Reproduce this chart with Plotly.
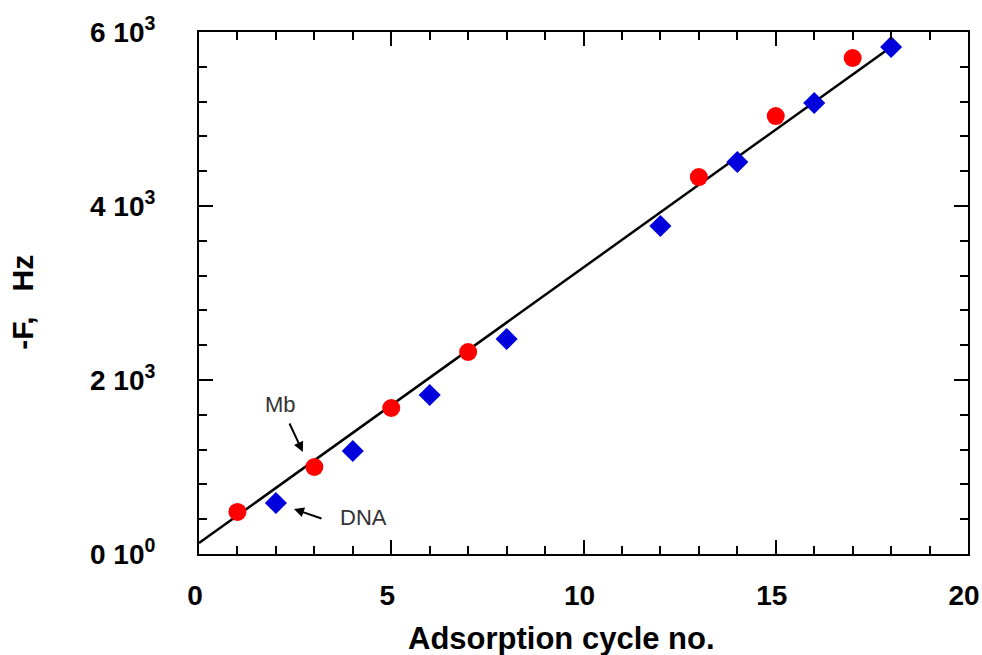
import plotly.graph_objects as go

# Data
mb_cycle = [1, 3, 5, 7, 13, 15, 17]
mb_freq = [483, 1000, 1678, 2322, 4333, 5034, 5701]
dna_cycle = [2, 4, 6, 8, 12, 14, 16, 18]
dna_freq = [586, 1184, 1828, 2471, 3770, 4506, 5184, 5828]
fit_x = [0, 18]
fit_y = [126, 5828]

ytick_vals = [0, 2000, 4000, 6000]
ytick_text = ["0 10<sup>0</sup>", "2 10<sup>3</sup>", "4 10<sup>3</sup>", "6 10<sup>3</sup>"]
xtick_vals = [0, 5, 10, 15, 20]

FONT = "Liberation Sans, Arial, sans-serif"

fig = go.Figure()
fig.add_trace(go.Scatter(x=fit_x, y=fit_y, mode="lines",
                         line=dict(color="black", width=2.5), showlegend=False,
                         hoverinfo="skip"))
fig.add_trace(go.Scatter(x=mb_cycle, y=mb_freq, mode="markers", name="Mb",
                         marker=dict(symbol="circle", size=18, color="#ff0000",
                                     line=dict(width=0)), showlegend=False))
fig.add_trace(go.Scatter(x=dna_cycle, y=dna_freq, mode="markers", name="DNA",
                         marker=dict(symbol="diamond", size=17, color="#0000dd",
                                     line=dict(width=0)), showlegend=False))

axis_common = dict(
    showline=True, linecolor="black", linewidth=2, mirror="allticks",
    ticks="inside", ticklen=14, tickwidth=2, tickcolor="black",
    showgrid=False, zeroline=False, automargin=False, ticklabeloverflow="allow",
    tickfont=dict(family=FONT, size=28, color="black", weight="bold"),
)

fig.update_xaxes(
    range=[0, 20], tickvals=xtick_vals, ticklabelstandoff=15, ticklabelshift=-4,
    minor=dict(ticks="inside", dtick=1, ticklen=8, tickwidth=1.5, tickcolor="black", showgrid=False),
    **axis_common,
)
fig.update_yaxes(
    range=[0, 6000], tickvals=ytick_vals, ticktext=ytick_text, ticklabelstandoff=36,
    minor=dict(ticks="inside", dtick=400, ticklen=8, tickwidth=1.5, tickcolor="black", showgrid=False),
    **axis_common,
)

annots = [
    dict(x=2.70, y=1172, ax=-14, ay=-30, text="", showarrow=True,
         arrowhead=2, arrowsize=1, arrowwidth=2, arrowcolor="black",
         xref="x", yref="y"),
    dict(x=2.47, y=517, ax=29, ay=10, text="", showarrow=True,
         arrowhead=2, arrowsize=1, arrowwidth=2, arrowcolor="black",
         xref="x", yref="y"),
    dict(x=2.11, y=1713, text="Mb", showarrow=False, xref="x", yref="y",
         font=dict(family=FONT, size=22, color="#333333")),
    dict(x=4.27, y=414, text="DNA", showarrow=False, xref="x", yref="y",
         font=dict(family=FONT, size=22, color="#333333")),
    dict(x=0.472, y=-0.162, xref="paper", yref="paper", yanchor="middle",
         text="Adsorption cycle no.", showarrow=False,
         font=dict(family=FONT, size=31, color="black", weight="bold")),
    dict(x=-0.229, y=0.483, xref="paper", yref="paper", xanchor="center", yanchor="middle",
         text="-F,\u00a0\u00a0\u00a0Hz", textangle=-90, showarrow=False,
         font=dict(family=FONT, size=30, color="black", weight="bold")),
]
for a in annots:
    fig.add_annotation(**a)

fig.update_layout(
    width=982, height=655,
    margin=dict(l=199, r=14, t=32, b=101),
    plot_bgcolor="white", paper_bgcolor="white",
)

fig.write_html("out.html")
